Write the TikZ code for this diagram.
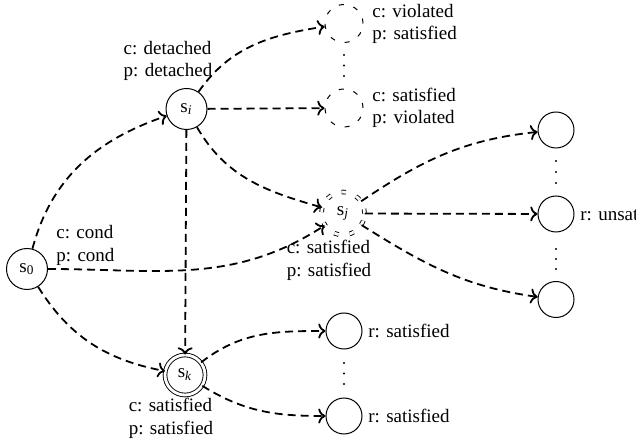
\documentclass[tikz,border=0pt]{standalone}
\usepackage{fontspec}
\setmainfont{Liberation Serif}
\usetikzlibrary{arrows.meta}
\begin{document}
\begin{tikzpicture}[x=0.5pt,y=0.5pt,
  every node/.style={font=\fontsize{9.5}{11.3}\selectfont, inner sep=0pt},
  state/.style={circle, draw, line width=0.5pt, minimum size=20.5pt},
  accst/.style={circle, draw, line width=0.45pt, double, double distance=1.4pt, minimum size=20pt},
  candst/.style={accst, minimum size=21.5pt, dash pattern=on 2.2pt off 5.5pt},
  plain/.style={circle, draw, line width=0.5pt, minimum size=18pt},
  ghost/.style={circle, draw, line width=0.5pt, minimum size=19pt, dash pattern=on 2.5pt off 5pt},
  lbl/.style={align=left},
  trans/.style={line width=0.9pt, dash pattern=on 4pt off 2.5pt, -{Computer Modern Rightarrow[length=3.6pt,width=7.5pt]}},
  dotc/.style={fill=black}
]
\useasboundingbox (0,0) rectangle (636,444);

% states
\node[state] (s0) at (27,175) {s\textsubscript{0}};
\node[state] (si) at (186.5,335) {s\textsubscript{\textit{i}}};
\node[ghost] (v1) at (344,420.5) {};
\node[ghost] (v2) at (344,336) {};
\node[candst] (sj) at (343,230.5) {s\textsubscript{\textit{j}}};
\node[accst] (sk) at (185,69) {s\textsubscript{\textit{k}}};
\node[plain] (r1) at (556,314) {};
\node[plain] (r2) at (556,230) {};
\node[plain] (r3) at (556,144.5) {};
\node[plain] (b1) at (344,113) {};
\node[plain] (b2) at (344,28) {};

% labels
\node[lbl] (lsi) at (168,383) {c: detached\\p: detached};
\node[lbl, anchor=west] (lv1) at (372,420) {c: violated\\p: satisfied};
\node[lbl, anchor=west] (lv2) at (372,336) {c: satisfied\\p: violated};
\node[lbl, anchor=west] (ls0) at (56,198.5) {c: cond\\p: cond};
\node[lbl] (lsj) at (329,183.5) {c: satisfied\\p: satisfied};
\node[lbl] (lsk) at (171,25.5) {c: satisfied\\p: satisfied};
\node[anchor=west] (lr2) at (580,230) {r: unsatisfied};
\node[anchor=west] (lb1) at (368,113) {r: satisfied};
\node[anchor=west] (lb2) at (368,28) {r: satisfied};

% vertical dots
\foreach \yy in {389,378.5,368} \fill[dotc] (344,\yy) circle (0.6pt);
\foreach \yy in {283,272,261} \fill[dotc] (556,\yy) circle (0.6pt);
\foreach \yy in {195,185,175} \fill[dotc] (556,\yy) circle (0.6pt);
\foreach \yy in {81,70.5,60} \fill[dotc] (344,\yy) circle (0.6pt);

% transitions
\draw[trans] (s0) to[out=75,in=199] (si);
\draw[trans] (s0) to[out=0,in=213] (sj);
\draw[trans] (s0) to[out=-58,in=169] (sk);
\draw[trans] (si) to[out=55,in=189] (v1);
\draw[trans] (si) -- (v2);
\draw[trans] (si) to[out=-60,in=164] (sj);
\draw[trans] (si) -- (sk);
\draw[trans] (sj) to[out=34,in=186] (r1);
\draw[trans] (sj) -- (r2);
\draw[trans] (sj) to[out=-32,in=172] (r3);
\draw[trans] (sk) to[out=38,in=180] (b1);
\draw[trans] (sk) to[out=-32,in=180] (b2);
\end{tikzpicture}
\end{document}
